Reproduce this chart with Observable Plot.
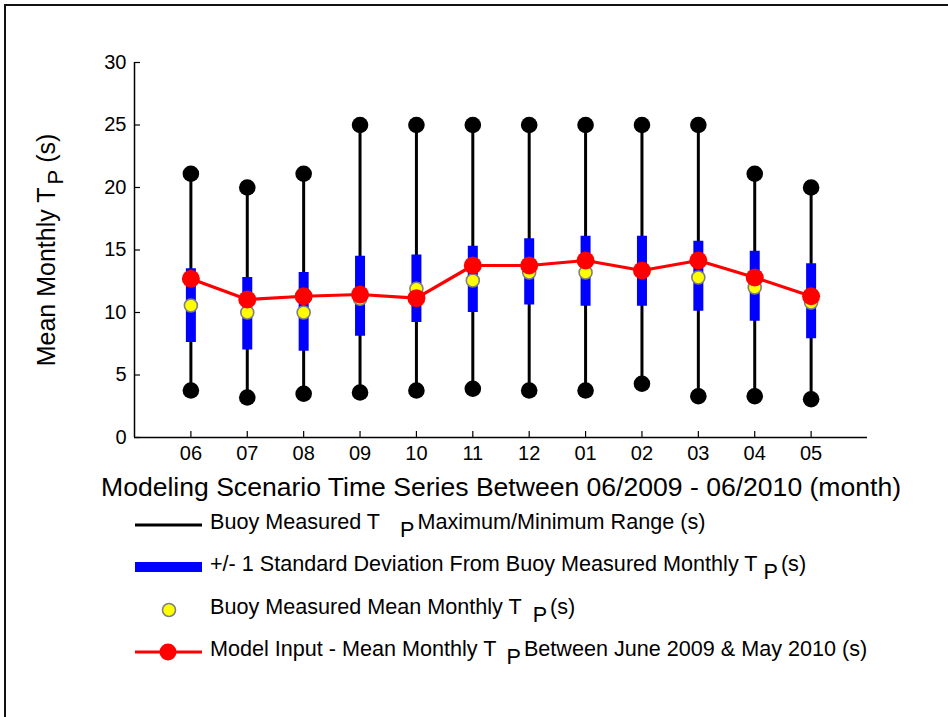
<!DOCTYPE html>
<html>
<head>
<meta charset="utf-8">
<script src="https://cdn.jsdelivr.net/npm/d3@7"></script>
<script src="https://cdn.jsdelivr.net/npm/@observablehq/plot@0.6"></script>
<style>
  html, body { margin: 0; padding: 0; background: #fff; }
  #wrap { position: relative; width: 948px; height: 717px; overflow: hidden; background: #fff;
          font-family: "Liberation Sans", Arial, sans-serif; color: #000; }
  #frame { position: absolute; left: 4px; top: 4px; width: 1100px; height: 900px;
           border-left: 2px solid #111; border-top: 2px solid #111; }
  #chart { position: absolute; left: 0; top: 0; }
  #legend { position: absolute; left: 0; top: 0; width: 948px; }
  .row { position: absolute; left: 0; height: 30px; width: 948px; }
  .row svg { position: absolute; left: 133px; top: 0; }
  .row .lab { position: absolute; left: 210px; top: -1px; font-size: 21.6px; white-space: nowrap; line-height: 22px; }
  .sub { position: relative; top: 8px; margin-right: 3px; }
</style>
</head>
<body>
<div id="wrap">
  <div id="frame"></div>
  <div id="chart"></div>
  <div id="legend"></div>
</div>
<script>
// ---- data ----
const months    = ["06","07","08","09","10","11","12","01","02","03","04","05"];
const maxTp     = [21.1, 20.0, 21.1, 25.0, 25.0, 25.0, 25.0, 25.0, 25.0, 25.0, 21.1, 20.0];
const minTp     = [3.76, 3.2, 3.5, 3.6, 3.76, 3.9, 3.76, 3.76, 4.3, 3.3, 3.3, 3.06];
const sdHigh    = [13.5, 12.8, 13.2, 14.5, 14.6, 15.3, 15.9, 16.1, 16.1, 15.7, 14.9, 13.9];
const sdLow     = [7.6, 7.0, 6.9, 8.1, 9.2, 10.0, 10.6, 10.5, 10.5, 10.1, 9.3, 7.9];
const buoyMean  = [10.56, 10.0, 10.0, 11.1, 11.9, 12.56, 13.2, 13.2, 13.3, 12.8, 12.0, 10.8];
const modelMean = [12.7, 11.04, 11.3, 11.44, 11.15, 13.76, 13.76, 14.16, 13.36, 14.16, 12.8, 11.3];
const yTicks    = [0, 5, 10, 15, 20, 25, 30];
const xTitle    = "Modeling Scenario Time Series Between 06/2009 - 06/2010 (month)";
const yTitle    = "Mean Monthly T";

const rows = months.map((m, i) => ({
  idx: i + 1, month: m, max: maxTp[i], min: minTp[i],
  sdHi: sdHigh[i], sdLo: sdLow[i], mean: buoyMean[i], model: modelMean[i]
}));
const xIdx = rows.map(d => d.idx);

const chart = Plot.plot({
  width: 948,
  height: 510,
  marginLeft: 134,
  marginRight: 81,
  marginTop: 62,
  marginBottom: 73,
  style: { fontFamily: "'Liberation Sans', Arial, sans-serif", fontSize: "20px", color: "#000", background: "transparent", overflow: "visible" },
  x: { domain: [0, 13], label: null },
  y: { domain: [0, 30], label: null },
  marks: [
    Plot.ruleY([0], { stroke: "#000", strokeWidth: 1.5 }),
    Plot.ruleX([0], { stroke: "#000", strokeWidth: 1.5 }),
    Plot.axisX(xIdx, { tickSize: -6, tickPadding: 14, tickFormat: d => months[d - 1], fontSize: 20, stroke: "#000", strokeWidth: 1.2, label: null }),
    Plot.axisY(yTicks, { tickSize: -6, tickPadding: 14, fontSize: 20, stroke: "#000", strokeWidth: 1.2, label: null }),
    // max/min range
    Plot.ruleX(rows, { x: "idx", y1: "min", y2: "max", stroke: "#000", strokeWidth: 3 }),
    Plot.dot(rows, { x: "idx", y: "max", r: 8.3, fill: "#000" }),
    Plot.dot(rows, { x: "idx", y: "min", r: 8.3, fill: "#000" }),
    // +/- 1 std
    Plot.ruleX(rows, { x: "idx", y1: "sdLo", y2: "sdHi", stroke: "#0000ff", strokeWidth: 10 }),
    // buoy mean
    Plot.dot(rows, { x: "idx", y: "mean", r: 6.5, fill: "#ffff00", stroke: "#808080", strokeWidth: 1.6 }),
    // model
    Plot.line(rows, { x: "idx", y: "model", stroke: "#ff0000", strokeWidth: 3.2 }),
    Plot.dot(rows, { x: "idx", y: "model", r: 9, fill: "#ff0000" }),
    // titles
    Plot.text([xTitle], { frameAnchor: "bottom", dy: 58, fontSize: 25, fill: "#000", className: "xtitle" }),
    Plot.text([yTitle], { frameAnchor: "left", textAnchor: "middle", dx: -88, dy: 0, rotate: -90, fontSize: 25, fill: "#000", className: "ytitle" })
  ]
});
document.getElementById("chart").appendChild(chart);

// subscript in y title
const yt = d3.select(chart).select("g.ytitle text");
yt.text(null);
yt.append("tspan").text(yTitle);
yt.append("tspan").attr("dx", 3).attr("dy", 8).attr("font-size", 22).text("P");
yt.append("tspan").attr("dy", -8).text(" (s)");
// fit x title to reference width
d3.select(chart).select("g.xtitle text").attr("textLength", 800).attr("lengthAdjust", "spacingAndGlyphs");

// ---- legend (below the chart) ----
const legendItems = [
  { top: 512, pre: "Buoy Measured T", post: "Maximum/Minimum Range (s)", key: "range", gap: 20 },
  { top: 554, pre: "+/- 1 Standard Deviation From Buoy Measured Monthly T", post: "(s)", key: "sd", gap: 6 },
  { top: 597, pre: "Buoy Measured Mean Monthly T", post: "(s)", key: "mean", gap: 11 },
  { top: 639, pre: "Model Input - Mean Monthly T", post: "Between June 2009 & May 2010 (s)", key: "model", gap: 10 }
];
const legend = d3.select("#legend");
for (const it of legendItems) {
  const row = legend.append("div").attr("class", "row").style("top", it.top + "px");
  const s = row.append("svg").attr("width", 72).attr("height", 30);
  if (it.key === "range") s.append("line").attr("x1", 2).attr("x2", 69).attr("y1", 13).attr("y2", 13).attr("stroke", "#000").attr("stroke-width", 3);
  if (it.key === "sd") s.append("line").attr("x1", 2).attr("x2", 69).attr("y1", 13).attr("y2", 13).attr("stroke", "#0000ff").attr("stroke-width", 10);
  if (it.key === "mean") s.append("circle").attr("cx", 36).attr("cy", 13).attr("r", 6.5).attr("fill", "#ffff00").attr("stroke", "#808080").attr("stroke-width", 1.6);
  if (it.key === "model") {
    s.append("line").attr("x1", 2).attr("x2", 69).attr("y1", 13).attr("y2", 13).attr("stroke", "#ff0000").attr("stroke-width", 3);
    s.append("circle").attr("cx", 35).attr("cy", 13).attr("r", 8.5).attr("fill", "#ff0000");
  }
  const lab = row.append("div").attr("class", "lab");
  lab.append("span").text(it.pre);
  lab.append("span").attr("class", "sub").style("margin-left", it.gap + "px").text("P");
  lab.append("span").text(it.post);
}
</script>
</body>
</html>
